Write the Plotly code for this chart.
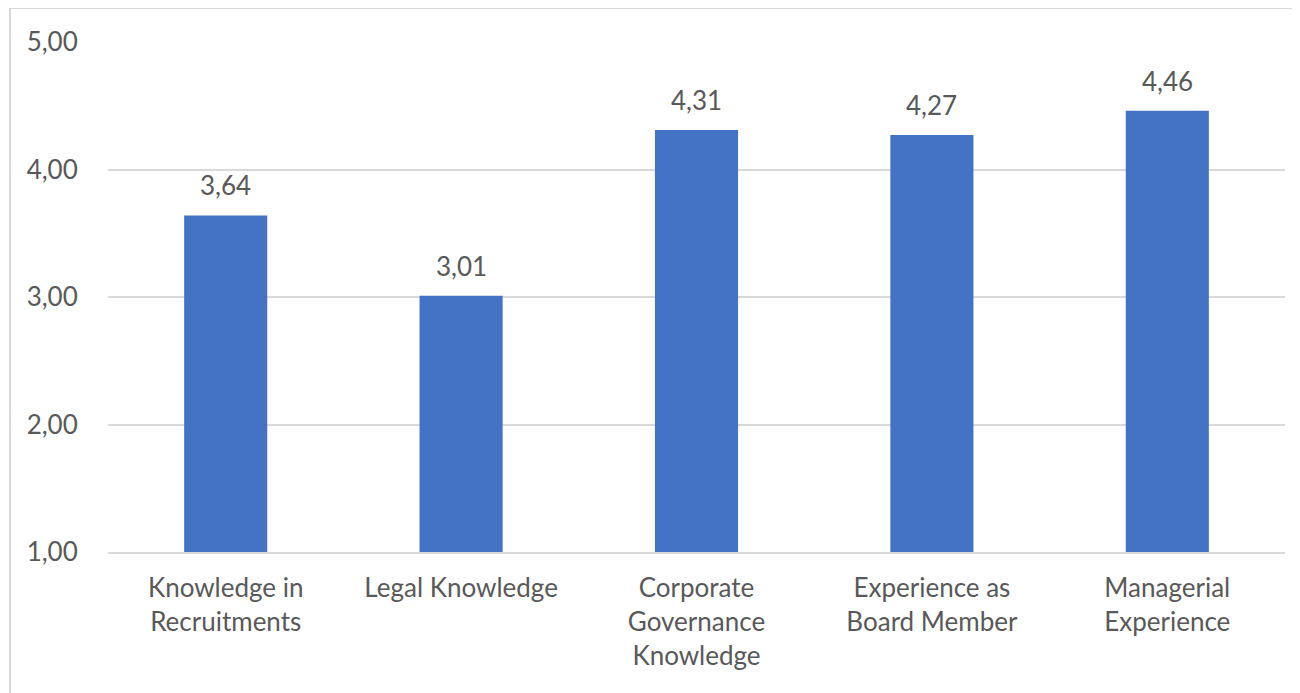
import plotly.graph_objects as go

categories = ["Knowledge in<br>Recruitments", "Legal Knowledge", "Corporate<br>Governance<br>Knowledge",
              "Experience as<br>Board Member", "Managerial<br>Experience"]
values = [3.64, 3.01, 4.31, 4.27, 4.46]
y_ticks = [1, 2, 3, 4, 5]

FONT = "Lato"
TXT = "#595959"
SIZE = 26

# page body has an 8px offset; compensate in margins
L, R, T, B = 100, 23, 34, 149
W, H = 1300, 693
PW = W - L - R
PH = H - T - B

fig = go.Figure()
fig.add_trace(go.Bar(
    x=categories, y=values,
    marker=dict(color="#4472C4", line=dict(width=0)),
    hoverinfo="skip",
))

for c, v in zip(categories, values):
    fig.add_annotation(x=c, y=v, text=f"{v:.2f}".replace(".", ","), showarrow=False,
                       yanchor="bottom", yshift=12,
                       font=dict(family=FONT, size=SIZE, color=TXT))

# outer border
fig.add_shape(type="rect", xref="paper", yref="paper",
              x0=(2 - L) / PW, x1=(1310 - L) / PW,
              y0=-(720 - (T + PH)) / PH, y1=(T + PH - 0) / PH,
              line=dict(color="#D9D9D9", width=2), fillcolor="rgba(0,0,0,0)", layer="below")

fig.update_layout(
    width=W, height=H,
    margin=dict(l=L, r=R, t=T, b=B),
    paper_bgcolor="white", plot_bgcolor="white",
    separators=", ",
    bargap=0.647,
    showlegend=False,
    font=dict(family=FONT, size=SIZE, color=TXT),
    xaxis=dict(
        showgrid=False, showline=True, linecolor="#D9D9D9", linewidth=2,
        ticks="outside", ticklen=12, tickcolor="rgba(0,0,0,0)",
        tickfont=dict(family=FONT, size=SIZE, color=TXT),
        tickangle=0,
    ),
    yaxis=dict(
        range=[1, 5], tickvals=y_ticks, tickformat=".2f",
        showgrid=True, gridcolor="#D9D9D9", gridwidth=2,
        zeroline=False, showline=False,
        ticks="outside", ticklen=24, tickcolor="rgba(0,0,0,0)",
        tickfont=dict(family=FONT, size=SIZE, color=TXT),
    ),
)

fig.write_html("out.html")
